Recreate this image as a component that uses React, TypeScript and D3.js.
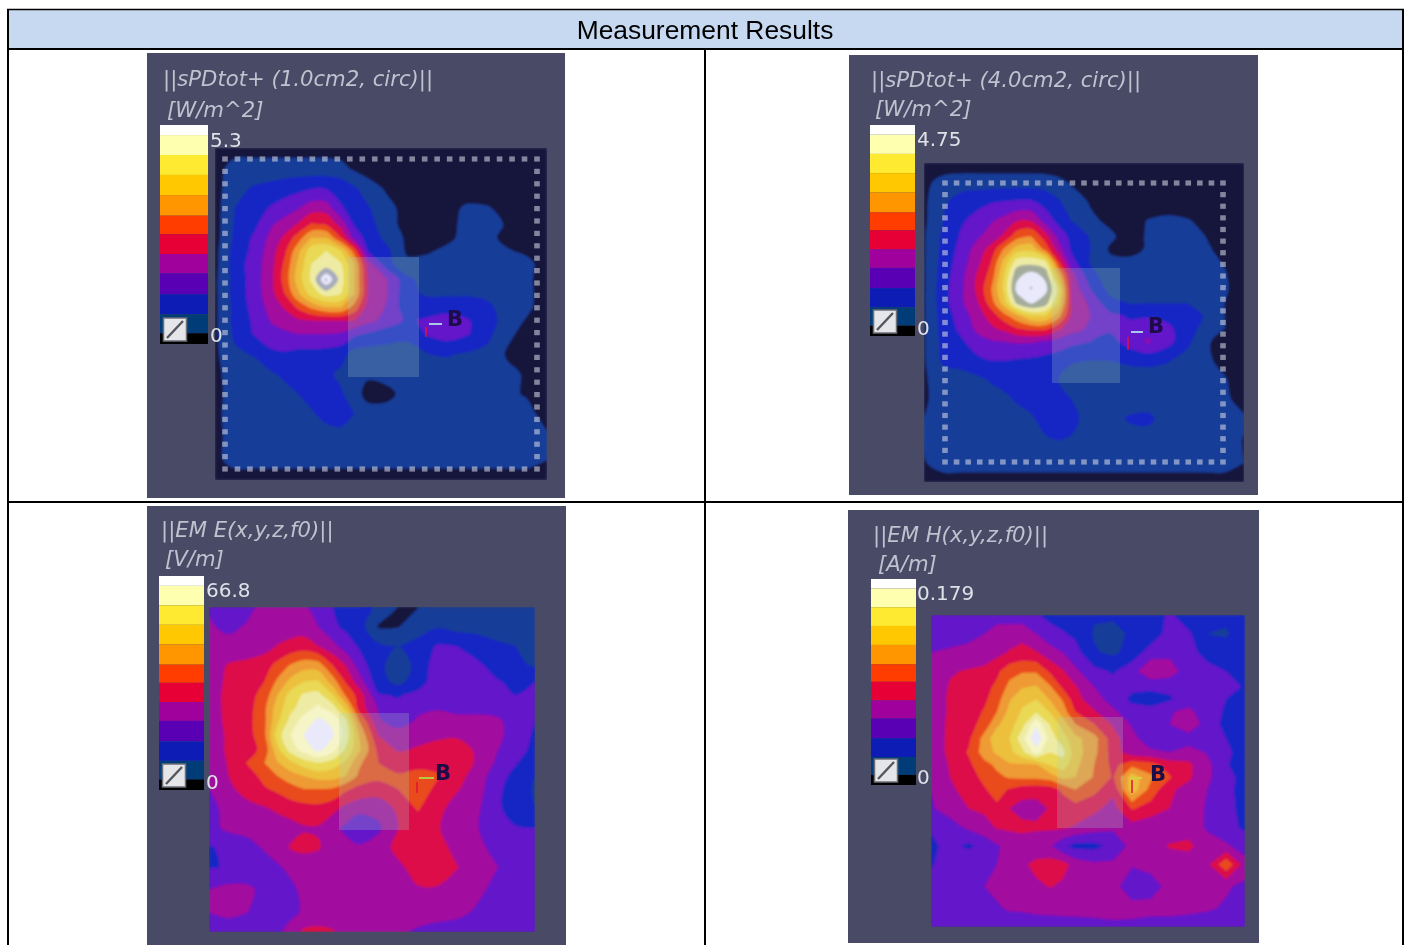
import React from "react";
import * as d3 from "d3";

// Shared measurement grid (percent of the map square).
const gridColumns = [0, 6, 12, 17, 21, 25, 29, 33.5, 38, 42, 46, 52, 58, 64, 70, 76, 82, 88, 94, 100];
const gridRows = [0, 6, 12, 18, 23, 27, 31, 35, 39.5, 44, 48, 52, 56, 62, 68, 74, 80, 87, 94, 100];

// Contour band values (0 = lowest band, 12 = top band).
const spd1Grid = [
  [.3,.6,.6,.6,.6,.6,.6,.6,.5,.3,.2,.2,.2,.2,.2,.2,.2,.2,.2,.2],
  [.6,1.4,1.4,1.4,1.4,1.4,1.4,1.4,1.3,.8,.5,.2,.2,.2,.2,.2,.2,.2,.2,.2],
  [.6,1.7,2.1,2.3,2.5,2.7,2.9,2.9,2.6,2.1,1.5,.8,.3,.2,.3,.2,.2,.2,.2,.2],
  [.6,2,2.6,3.1,3.5,3.9,4.5,4.5,3.1,2.6,2.1,1.3,.6,.3,.6,1.2,1.1,.6,.2,.2],
  [.6,2.1,2.8,3.9,4.4,5.1,6.1,5.9,4.6,2.9,2.4,1.4,.6,.3,.7,1.3,1.4,.9,.3,.2],
  [.6,2.2,3.2,4.3,5.2,6.5,8,8,6,3.7,2.6,1.7,.8,.4,.8,1.3,1.3,.7,.3,.2],
  [.7,2.4,3.3,4.6,5.8,7.7,9.6,10,9,6.5,3,2.2,.8,.9,1.2,1.4,1.3,1.1,.8,.3],
  [.7,2.5,3.5,4.7,6.2,8.2,10,10.4,10.1,8,4.6,2.3,1.3,1.3,1.3,1.4,1.4,1.4,1.3,.5],
  [.8,2.4,3.5,4.8,6.4,8.5,10.2,13,10.5,8,5,4,2.2,1.6,1.5,1.5,1.4,1.3,1.2,.5],
  [.8,2.4,3.5,4.7,6,7.8,9.4,10.4,10,8,5,4,2.2,1.9,1.9,1.9,1.8,1.4,1.2,.6],
  [.8,2.3,3.4,4.4,5.1,6.2,7.2,8,8,6.6,4.6,3.9,2.3,2.4,2.5,2.5,2.2,1.6,1.2,.5],
  [.8,2.3,3.2,4.1,4.5,4.8,5,5,5,5,4.3,3.6,2.8,3.2,3.6,3.1,2.5,1.5,.9,.4],
  [.8,2.2,3.1,3.6,3.8,4,4,4,3.9,3.2,2.9,2.4,2.2,3.1,3.5,3.1,2.3,1.2,.7,.4],
  [.8,1.8,2.1,2.8,2.9,2.7,2.7,2.6,2.4,1.6,1.5,1.6,1.7,2,2.1,1.9,1.7,.9,.4,.2],
  [.8,1.4,1.6,1.9,2.2,2.4,2.4,2.2,1.8,1.4,1.2,1.3,1.4,1.5,1.5,1.5,1.4,1.2,.9,.2],
  [.8,1.3,1.4,1.5,1.7,2,2.3,2.3,2.1,1.5,.6,.8,1.3,1.4,1.4,1.4,1.4,1.2,.9,.3],
  [.9,1.2,1.3,1.4,1.5,1.6,1.9,2.3,2.4,2,1.5,1.3,1.3,1.3,1.3,1.3,1.3,1.3,1.3,.6],
  [.8,1.3,1.3,1.3,1.3,1.4,1.4,1.6,1.7,1.5,1.4,1.3,1.3,1.3,1.3,1.3,1.3,1.3,1.3,1.1],
  [.8,1.3,1.3,1.3,1.3,1.3,1.3,1.3,1.3,1.3,1.3,1.3,1.3,1.3,1.3,1.3,1.3,1.3,1.3,1],
  [.5,.6,.6,.6,.6,.6,.6,.6,.6,.6,.6,.6,.6,.6,.6,.6,.6,.6,.6,.5],
];
const spd4Grid = [
  [.3,.3,.4,.4,.4,.4,.4,.4,.3,.2,.2,.2,.2,.2,.2,.2,.2,.2,.2,.2],
  [.7,1.4,1.5,1.5,1.5,1.5,1.5,1.5,1.5,1.3,.9,.4,.2,.2,.2,.2,.2,.2,.2,.2],
  [.8,1.8,2.5,2.7,2.9,3,3.1,3.1,2.6,2.1,1.5,.9,.4,.2,.2,.2,.2,.2,.2,.2],
  [.8,2,2.9,3.4,3.9,4.3,4.9,4.9,3.6,2.7,2,1.2,.8,.5,1.05,1.3,1.1,.7,.3,.2],
  [.9,2.2,3.2,3.9,4.4,5.2,6.6,7,5.4,3.7,2.7,1.9,1.2,.6,1.1,1.4,1.3,1,.5,.2],
  [.9,2.3,3.4,4.5,5.4,7.1,8.5,8.7,6.6,4.5,2.9,2,.9,.7,1.1,1.4,1.4,1.2,.6,.2],
  [.9,2.4,3.6,4.8,6,8.3,10.5,10.6,10.2,6,3.4,1.9,1.2,1.2,1.4,1.5,1.5,1.4,.9,.2],
  [.9,2.5,3.8,5.2,6.4,9,11.7,12.4,11.7,8,4.5,2.3,1.5,1.3,1.4,1.5,1.5,1.5,1.1,.2],
  [.9,2.6,3.9,5.3,7,9.2,12.3,13,12.3,9.7,4.8,3,1.7,1.5,1.5,1.6,1.6,1.5,1.2,.2],
  [.9,2.6,3.9,5,6.5,8.5,11.2,12.1,11.4,9,5,3.8,2.4,2,2,2,2,1.7,1,.3],
  [.9,2.5,3.5,4.6,5.4,6.6,7.7,9,9,7.4,4.9,4,3.3,2.9,2.9,2.7,2.5,1.9,1,.2],
  [.9,2.4,3.3,4.3,4.8,5.2,5.9,6.2,6.2,5.2,4.4,3.8,3.2,3.3,3.7,3.3,2.4,1.7,1,.2],
  [.9,2.3,2.9,3.6,3.9,4,4.1,4.1,3.9,3.6,3.3,3,2.6,3.4,4.1,3.4,2.3,1.2,.5,.2],
  [.9,2.2,2.5,2.8,3,3,2.9,2.8,2.6,2.4,2.1,2,2,2.2,2.3,2.1,1.6,1.2,.7,.2],
  [.9,1.4,1.5,1.8,2.1,2.3,2.4,2.3,2.1,2,1.6,1.4,1.4,1.4,1.4,1.3,1.3,1.3,1.1,.4],
  [.9,1.3,1.4,1.4,1.6,1.8,2.1,2.3,2.4,2.4,2,1.5,1.4,1.4,1.5,1.4,1.4,1.4,1.2,.6],
  [1,1.3,1.3,1.4,1.4,1.5,1.7,1.9,2.3,2.4,2.3,1.6,1.6,2.1,2.2,1.6,1.4,1.4,1.3,1.1],
  [1,1.3,1.3,1.4,1.4,1.4,1.4,1.5,1.9,2,1.9,1.5,1.4,1.6,1.6,1.4,1.4,1.4,1.4,.95],
  [.95,1.3,1.3,1.3,1.3,1.3,1.3,1.3,1.3,1.3,1.3,1.3,1.3,1.3,1.3,1.3,1.3,1.3,1.3,1],
  [.5,.7,.7,.7,.7,.7,.7,.7,.7,.7,.7,.7,.7,.7,.7,.7,.7,.7,.7,.5],
];
const efieldGrid = [
  [3.9,3.5,3.8,4.2,4.2,4.2,4.1,3.7,3,2.5,2.2,1.9,.95,.95,1.5,1.6,2,1.6,1.6,1.6],
  [4.1,3.8,4.1,4.3,4.4,4.5,4.5,4,3.2,2.8,2.5,.9,.95,1.6,1.9,1.6,1.6,1.5,1.5,1.6],
  [4.2,4.3,4.4,4.6,5.05,5.3,5.5,5,4.3,3.5,2.9,2.2,2,2.3,3.1,3,2.6,2.2,2,1.8],
  [4.4,5.1,5.3,5.6,6.3,7.1,7.6,7.5,6,5,3.6,2.2,1.6,2.2,3.6,3.9,3.2,2.7,2.2,1.9],
  [4.5,5.2,5.4,6,7.2,8.3,9,9.1,7.5,5.9,4.5,2.4,1.7,2.5,3.6,3.8,3.5,3.1,2.8,3],
  [4.5,5.3,5.6,6.4,8,9.4,10.1,10.3,9,6.8,5.6,3.1,2.9,3.3,3.7,3.9,3.8,3.4,3,3.2],
  [4.5,5.3,5.6,6.8,8.5,9.7,10.5,11.2,10.4,8.6,5.6,3.9,3.3,3.8,3.9,3.8,3.7,3.6,3.5,3.2],
  [4.4,5.3,5.7,6.8,8.8,10.3,11.4,12.2,11.8,10.2,7,4.1,3.6,4.1,4.4,4.2,4.3,4.2,3.6,3],
  [4.3,5.2,5.6,6.8,9.5,11,12,13,12.1,10.6,8,5,4.4,4.7,4.8,4.9,4.6,4.4,3.4,2.9],
  [4.3,5.2,5.5,6.4,8.7,10.4,11.4,12.2,11.4,9.8,8.2,5.7,4.9,5.1,5.4,5.4,4.9,4.1,3.3,2.8],
  [4.2,5.1,6.1,7,7.9,8.7,9.5,10,9.5,8.8,7.2,6,5.6,5.6,5.7,5.6,4.9,3.9,3.1,2.3],
  [4.1,5,5.6,6.3,7,7.6,8,8.4,8.4,8,6.8,6.3,6.1,6.4,6.1,5.4,4.6,3.5,2.7,2],
  [4,4.8,5.4,5.9,6.2,6.6,7,7,6.9,6.2,5.7,5.5,6,6.5,5.8,5.1,4.5,3.3,2.5,1.9],
  [3.6,4.4,4.7,4.9,5.2,5.5,5.6,5.7,5.3,4.7,4.4,4.4,5.2,6.1,5.3,4.6,4.2,3.3,2.4,2],
  [3.7,4.2,4.3,4.2,4.4,4.6,4.9,4.9,4.3,3.8,3,3.8,5,5.4,5.1,4.5,4.1,3.3,3.1,3],
  [2.9,3.3,3.7,4.1,4.2,5.1,5.3,5.1,4.5,4.3,4.2,4.5,5.3,5.5,5.4,4.7,4.2,3.8,3.3,3.1],
  [2.9,3.1,3.3,3.6,3.95,4.1,4.3,4.4,4.4,4.4,4.4,4.5,4.8,5.4,5.5,5.05,4.5,4.05,3.6,3.3],
  [4,4.3,4.2,3.7,3.6,3.9,4.1,4.3,4.4,4.4,4.4,4.4,4.6,4.9,4.9,4.6,4.2,3.8,3.5,3.3],
  [4,4.2,4,3.6,3.6,3.8,4.1,4.3,4.4,4.4,4.4,4.4,4.4,4.3,4.3,4.2,3.9,3.7,3.5,3.3],
  [3.6,3.5,3.5,3.5,3.8,4.3,5.2,5.3,5.1,4.3,4.2,4.2,4.1,3.9,3.7,3.6,3.5,3.4,3.3,3.2],
];
const hfieldGrid = [
  [3.4,3.5,3.4,3.6,3.8,3.6,3.4,3.1,2.7,2.5,2.5,2.1,2.1,2.2,2.4,3.2,2.3,2.1,2.2,2.4],
  [3.6,3.7,3.8,4,4.2,4.4,4.7,4,3.4,3.1,2.8,1.9,1.8,2.1,2.4,3.4,3.2,2,1.9,2.5],
  [4,4.1,4.2,4.3,4.7,5.1,5.3,5.1,4.4,4,3.4,2.1,1.8,2.4,3.5,3.7,3.2,2.8,2.4,2.6],
  [4.2,4.9,5.1,5.3,5.8,6.6,6.9,6.9,5.8,5.1,4.2,3.3,2.9,3.6,4.9,4.6,3.4,3.2,3,2.8],
  [4.2,5.1,5.3,5.7,6.2,7.3,7.9,8.1,7.1,5.8,5.1,4,3.3,3.2,3.2,3.2,3.3,3.4,3.4,2.9],
  [4.2,5.2,5.4,5.8,6.6,7.9,8.8,9,7.9,6.9,5.4,4.4,3.6,2.8,2.6,2.9,3.4,3.4,3,2.7],
  [4.1,5.2,5.5,6.1,7,8.3,9.1,9.9,8.9,7.5,6,5.1,4.2,3.4,3.3,3.9,4.3,3.4,2.9,2.6],
  [4.1,5.3,5.6,6.4,7.8,8.6,9.6,11.8,9.9,8.6,7,6,4.9,3.9,3.6,4,5,3.4,2.8,2.5],
  [4.2,5.3,5.8,7.4,8.7,9,10.6,13,10.5,9.4,8.3,7.4,5.4,4.3,3.4,3.3,3.4,3.6,3,2.7],
  [4.2,5.3,6.1,7.5,8.2,8.7,9.7,11.5,10,10.3,8.5,7.3,5.5,4.4,4.2,4,4.5,3.9,3.1,2.8],
  [4.1,5.1,5.8,6.7,7.2,7.9,7.9,7.9,9.1,9.6,8.3,7,5.7,6.7,6.4,5.5,5.2,4.3,3.1,2.4],
  [4,5,5.5,6.3,6.8,7.1,7.2,7.2,7.5,8.3,8,6.9,5.9,8.6,7.2,6.1,5.2,4.2,3.4,2.6],
  [4,4.9,5.2,5.9,6.4,5.9,5.5,5.4,5.5,6.2,7,6.3,5.2,8.7,6.6,5.2,4.6,4,3.3,2.6],
  [3.9,4.4,5,5.2,5.8,5,4.6,4.6,5.1,5.4,5.6,5.2,4.7,6.1,5.6,5,4.5,3.9,3.3,2.7],
  [3.1,3.6,4.2,4.6,5.1,5.2,5.3,5.2,5.2,5.2,4.9,4.5,4.2,4.6,4.3,4.3,4.4,3.9,3.2,2.9],
  [2.8,3.3,2.8,3.4,3.9,4.3,4.4,4.3,4.1,3.2,2.7,2.7,3.3,4.3,4.5,5.1,5.3,4.3,4.2,3.4],
  [2.9,3.6,4,3,4,4.4,4.8,5.3,5.5,5.4,4.6,4.2,4.2,4.1,4.3,4.4,4.3,4.8,6.8,4.5],
  [3.3,3.5,3.7,4,4.2,4.3,4.4,4.8,5.05,4.8,4.5,4.5,4.4,3.3,3.6,4.3,4.2,4.2,4.1,3.8],
  [3.4,3.2,3.5,3.7,3.9,4.1,4.1,4.2,4.3,4.3,4.4,4.4,4.5,4.4,4.3,4.3,4.2,4.1,3.9,3.5],
  [3.4,3.3,3.6,3.5,3.4,3.5,3.6,3.6,3.5,3.6,3.5,3.6,3.7,3.7,3.6,3.6,3.6,3.5,3.4,3.3],
];

const contourLevels = [1, 2, 3, 4, 5, 6, 7, 8, 9, 10, 11, 12];
const levelColors = ["#123c98", "#1426c4", "#6412ca", "#a2109f", "#dc1048", "#ea4c1c", "#ee9a34", "#ecc03c", "#e9d955", "#eeeca4"];
const ringColor = "#a9acbc";
const creamColor = "#f6f5c8";
const discColor = "#e9e9fb";
const navyColor = "#14143e";
const panelColor = "#484a66";

const barColors = ["#ffffff", "#ffffb0", "#ffea30", "#ffc800", "#ff9600", "#ff3c00", "#e60036", "#a0009c", "#5a00b4", "#0a1fb4", "#003c78", "#000000"];
const barStops = [0, 0.046, 0.137, 0.228, 0.32, 0.414, 0.499, 0.589, 0.677, 0.773, 0.864, 0.951, 1];

const panelTitles = ["||sPDtot+ (1.0cm2, circ)||", "||sPDtot+ (4.0cm2, circ)||", "||EM E(x,y,z,f0)||", "||EM H(x,y,z,f0)||"];
const panelUnits = ["[W/m^2]", "[W/m^2]", "[V/m]", "[A/m]"];
const maxLabels = ["5.3", "4.75", "66.8", "0.179"];
const minLabel = "0";
const tableTitle = "Measurement Results";

type Panel = {
  grid: number[][]; ring: string; smooth: boolean; bg: number[]; map: number[]; bar: number[];
  title: number[]; unit: number[]; maxY: number; minY: number; labelX: number; square: number[];
  dots: number[] | null; dotCount: number; b: number[]; dash: number[]; dashColor: string; red: number[]; centre: number[] | null;
};

const panels: Panel[] = [
  { grid: spd1Grid, ring: ringColor, smooth: true, bg: [147, 53, 565, 498], map: [215, 148, 547, 480], bar: [160, 125, 208, 344],
    title: [163, 86], unit: [167, 117], maxY: 147, minY: 342, labelX: 210, square: [348, 257, 419, 377],
    dots: [225, 159, 537, 469], dotCount: 25, b: [447, 326], dash: [429, 324, 442], dashColor: "#a8c8e8", red: [426, 327, 337], centre: [326, 280] },
  { grid: spd4Grid, ring: "#a4ac9c", smooth: true, bg: [849, 55, 1258, 495], map: [924, 163, 1244, 482], bar: [870, 125, 915, 336],
    title: [871, 87], unit: [875, 116], maxY: 146, minY: 335, labelX: 917, square: [1052, 268, 1120, 383],
    dots: [945, 183, 1223, 462], dotCount: 24, b: [1148, 333], dash: [1131, 332, 1143], dashColor: "#a8c8e8", red: [1128, 337, 350], centre: [1031, 288] },
  { grid: efieldGrid, ring: creamColor, smooth: true, bg: [147, 506, 566, 945], map: [209, 607, 535, 932], bar: [159, 576, 204, 790],
    title: [161, 537], unit: [165, 566], maxY: 597, minY: 789, labelX: 206, square: [339, 713, 409, 830],
    dots: null, dotCount: 0, b: [435, 780], dash: [419, 778, 434], dashColor: "#b8c840", red: [417, 782, 793], centre: null },
  { grid: hfieldGrid, ring: creamColor, smooth: false, bg: [848, 510, 1259, 943], map: [931, 615, 1245, 927], bar: [871, 579, 916, 785],
    title: [873, 542], unit: [878, 571], maxY: 600, minY: 784, labelX: 917, square: [1057, 717, 1123, 828],
    dots: null, dotCount: 0, b: [1150, 781], dash: [1130, 778, 1142], dashColor: "#d8d040", red: [1132, 780, 793], centre: null },
];

const contourGen = d3.contours().size([gridColumns.length, gridRows.length]).thresholds(contourLevels);

function ContourMap({ p, id }: { p: Panel; id: string }) {
  const [x0, y0, x1, y1] = p.map;
  const pos = d3.scaleLinear().domain([0, 100]);
  const xs = d3.scaleLinear().domain(d3.range(gridColumns.length)).range(gridColumns.map((c) => pos.range([x0, x1])(c))).clamp(true);
  const ys = d3.scaleLinear().domain(d3.range(gridRows.length)).range(gridRows.map((r) => pos.range([y0, y1])(r))).clamp(true);
  const line = d3.line<number[]>().x((d) => xs(d[0] - 0.5)).y((d) => ys(d[1] - 0.5))
    .curve(p.smooth ? d3.curveCatmullRomClosed.alpha(0.5) : d3.curveLinearClosed);
  const bands = contourGen(p.grid.flat());
  const fill = (v: number) => (v <= 10 ? levelColors[v - 1] : v === 11 ? p.ring : discColor);
  return (
    <g>
      <clipPath id={id}><rect x={x0} y={y0} width={x1 - x0} height={y1 - y0} /></clipPath>
      <g clipPath={`url(#${id})`} filter="url(#soft)">
        <rect x={x0} y={y0} width={x1 - x0} height={y1 - y0} fill={navyColor} />
        {bands.map((b) => (
          <path key={b.value} fillRule="evenodd" fill={fill(b.value)}
            d={b.coordinates.flatMap((poly) => poly.map((ring) => line(ring.slice(0, -1) as number[][]))).join("")} />
        ))}
        {p.centre && <circle cx={p.centre[0]} cy={p.centre[1]} r={1.2} fill="#a89cc8" />}
      </g>
    </g>
  );
}

function ColorBar({ p }: { p: Panel }) {
  const [x0, y0, x1, y1] = p.bar;
  const y = d3.scaleLinear().domain([0, 1]).range([y0, y1]);
  return (
    <g filter="url(#softText)">
      {barColors.map((c, i) => (
        <rect key={i} x={x0} width={x1 - x0} y={y(barStops[i])} height={y(barStops[i + 1]) - y(barStops[i])} fill={c} />
      ))}
      <rect x={x0 + 3.5} y={y1 - 26} width={23} height={23} fill="#e4e6ea" stroke="#6c6e78" strokeWidth={1.5} />
      <line x1={x0 + 7} y1={y1 - 6} x2={x0 + 23} y2={y1 - 23} stroke="#55565c" strokeWidth={2.4} />
    </g>
  );
}

function Overlays({ p }: { p: Panel }) {
  const [sx0, sy0, sx1, sy1] = p.square;
  let dots: React.ReactNode = null;
  if (p.dots) {
    const [dx0, dy0, dx1, dy1] = p.dots;
    const idx = d3.range(p.dotCount + 1);
    const dx = d3.scalePoint<number>().domain(idx).range([dx0, dx1]);
    const dy = d3.scalePoint<number>().domain(idx).range([dy0, dy1]);
    const pts: number[][] = [];
    idx.forEach((i) => {
      pts.push([dx(i)!, dy0], [dx(i)!, dy1]);
      if (i > 0 && i < p.dotCount) pts.push([dx0, dy(i)!], [dx1, dy(i)!]);
    });
    dots = pts.map((d, i) => <rect key={i} x={d[0] - 2.8} y={d[1] - 2.6} width={5.6} height={5.2} fill="#d2d6e2" opacity={0.58} />);
  }
  return (
    <g filter="url(#softText)">
      {dots}
      <rect x={sx0} y={sy0} width={sx1 - sx0} height={sy1 - sy0} fill="#a8d0c4" opacity={0.24} />
      <line x1={p.dash[0]} x2={p.dash[2]} y1={p.dash[1]} y2={p.dash[1]} stroke={p.dashColor} strokeWidth={2} />
      <line x1={p.red[0]} x2={p.red[0]} y1={p.red[1]} y2={p.red[2]} stroke="#e0103c" strokeWidth={1.5} />
      <text x={p.b[0]} y={p.b[1]} fontFamily="DejaVu Sans" fontWeight="bold" fontSize={21} fill="#1a0c48">B</text>
    </g>
  );
}

function PanelView({ p, i }: { p: Panel; i: number }) {
  const [bx0, by0, bx1, by1] = p.bg;
  const text = "#bfc2cf";
  return (
    <g>
      <rect x={bx0} y={by0} width={bx1 - bx0} height={by1 - by0} fill={panelColor} />
      <ContourMap p={p} id={`clip${i}`} />
      <Overlays p={p} />
      <ColorBar p={p} />
      <g fontFamily="DejaVu Sans" filter="url(#softText)">
        <text x={p.title[0]} y={p.title[1]} fontStyle="italic" fontSize={21.2} fill={text}>{panelTitles[i]}</text>
        <text x={p.unit[0]} y={p.unit[1]} fontStyle="italic" fontSize={21.2} fill={text}>{panelUnits[i]}</text>
        <text x={p.labelX} y={p.maxY} fontSize={20} fill="#dfe1e8">{maxLabels[i]}</text>
        <text x={p.labelX} y={p.minY} fontSize={20} fill="#dfe1e8">{minLabel}</text>
      </g>
    </g>
  );
}

export default function App() {
  return (
    <svg width={1407} height={945} style={{ position: "absolute", left: 0, top: 0, display: "block" }}>
      <defs>
        <filter id="soft" x="-5%" y="-5%" width="110%" height="110%"><feGaussianBlur stdDeviation={0.9} /></filter>
        <filter id="softText" x="-5%" y="-5%" width="110%" height="110%"><feGaussianBlur stdDeviation={0.45} /></filter>
      </defs>
      <rect width={1407} height={945} fill="#ffffff" />
      <rect x={8} y={10} width={1395} height={39} fill="#c6d9f1" />
      {panels.map((p, i) => <PanelView key={i} p={p} i={i} />)}
      <text x={705} y={39} textAnchor="middle" fontFamily="Liberation Sans" fontSize={26.4} fill="#000">{tableTitle}</text>
      <g stroke="#000" fill="none">
        <line x1={7} x2={1404} y1={9.5} y2={9.5} strokeWidth={1.5} />
        <line x1={7} x2={1404} y1={49} y2={49} strokeWidth={2} />
        <line x1={7} x2={1404} y1={502} y2={502} strokeWidth={2} />
        <line x1={8} x2={8} y1={9} y2={945} strokeWidth={2} />
        <line x1={705} x2={705} y1={49} y2={945} strokeWidth={2} />
        <line x1={1403} x2={1403} y1={9} y2={945} strokeWidth={2} />
      </g>
    </svg>
  );
}
